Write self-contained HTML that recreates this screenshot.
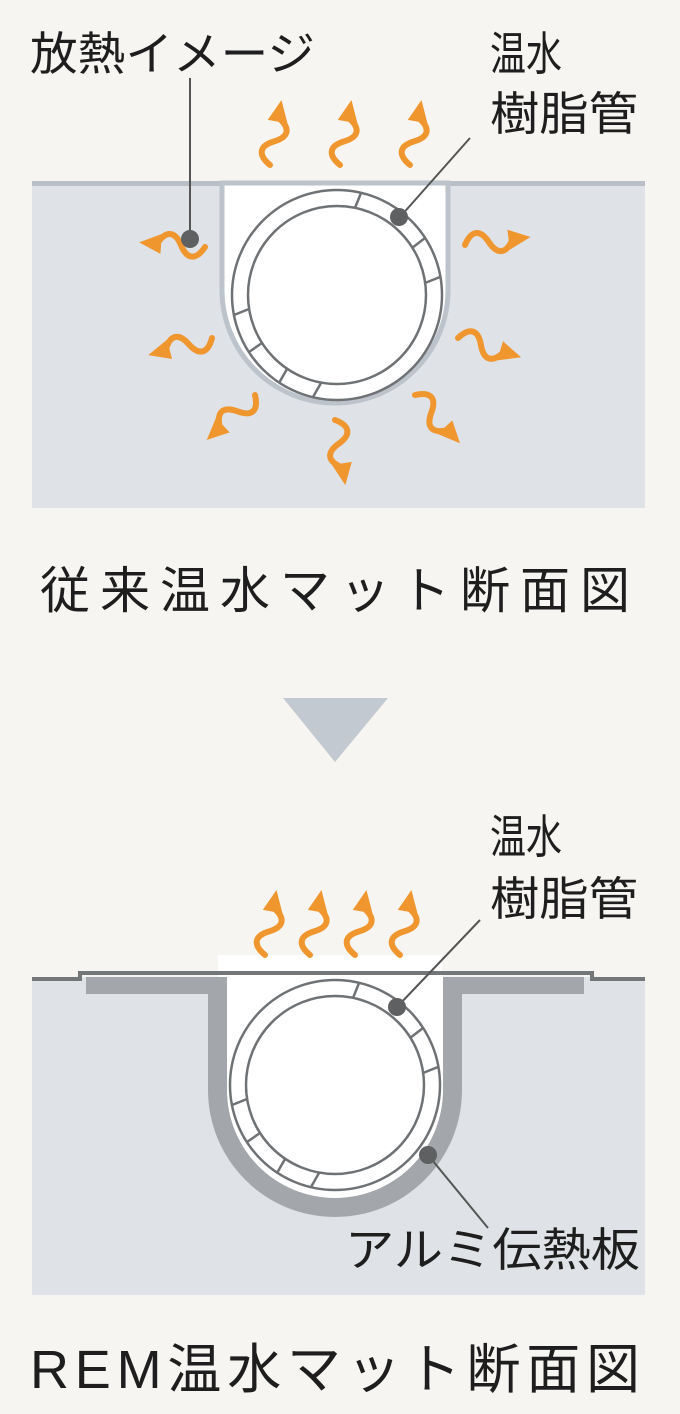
<!DOCTYPE html>
<html><head><meta charset="utf-8"><style>
html,body{margin:0;padding:0;background:#f6f5f1}
svg{display:block}
text{font-family:"Liberation Sans","Noto Sans CJK JP",sans-serif;fill:#1e1e1e}
</style></head><body>
<svg width="680" height="1414" viewBox="0 0 680 1414" xmlns="http://www.w3.org/2000/svg">
<defs>
<g id="arr">
<path d="M0,0 c8,-14 17,-14 24,0 s16,14 24,0" fill="none" stroke="#f0962e" stroke-width="6" stroke-linecap="round"/>
<polygon points="44,-10 66,0 44,10" fill="#f0962e"/>
</g>
<g id="pipe">
<circle cx="0" cy="0" r="105" fill="#fff" stroke="#6f7275" stroke-width="2.5"/>
<circle cx="0" cy="0" r="89" fill="#fff" stroke="#6f7275" stroke-width="2.5"/>
<g stroke="#6f7275" stroke-width="2.5">
<line x1="18" y1="-87" x2="24" y2="-102"/>
<line x1="75" y1="-47" x2="88" y2="-57"/>
<line x1="88" y1="-12" x2="103" y2="-18"/>
<line x1="-88" y1="14" x2="-103" y2="20"/>
<line x1="-75" y1="48" x2="-88" y2="57"/>
<line x1="-50" y1="74" x2="-58" y2="88"/>
<line x1="-16" y1="88" x2="-24" y2="102"/>
</g>
</g>
</defs>

<!-- TOP DIAGRAM -->
<rect x="32" y="183" width="613" height="325" fill="#dfe2e6"/>
<rect x="32" y="181" width="613" height="5" fill="#b8bfc6"/>
<path d="M222,183 V290 A113,113 0 0 0 448,290 V183 Z" fill="#fff" stroke="#bcc3ca" stroke-width="5"/>
<rect x="225" y="186" width="220" height="10" fill="#fff"/>
<use href="#pipe" transform="translate(337,295)"/>

<text x="30" y="70" font-size="46" textLength="285" lengthAdjust="spacingAndGlyphs">放熱イメージ</text>
<text x="490" y="70" font-size="46" textLength="72" lengthAdjust="spacingAndGlyphs">温水</text>
<text x="490" y="130" font-size="46" textLength="148" lengthAdjust="spacingAndGlyphs">樹脂管</text>
<line x1="190" y1="78" x2="190" y2="240" stroke="#555" stroke-width="2"/>
<line x1="470" y1="138" x2="400" y2="217" stroke="#555" stroke-width="2"/>

<use href="#arr" transform="translate(205,247) rotate(184)"/>
<circle cx="190" cy="239" r="9" fill="#5e6062"/>
<circle cx="399" cy="217" r="9" fill="#5e6062"/>
<use href="#arr" transform="translate(212,338) rotate(165)"/>
<use href="#arr" transform="translate(255,395) rotate(137)"/>
<use href="#arr" transform="translate(335,420) rotate(81)"/>
<use href="#arr" transform="translate(415,395) rotate(47)"/>
<use href="#arr" transform="translate(458,338) rotate(17)"/>
<use href="#arr" transform="translate(465,245) rotate(-7)"/>
<use href="#arr" transform="translate(270,165) rotate(-80)"/>
<use href="#arr" transform="translate(340,165) rotate(-80)"/>
<use href="#arr" transform="translate(410,165) rotate(-80)"/>

<text x="40" y="608" font-size="50" textLength="590" lengthAdjust="spacing">従来温水マット断面図</text>

<polygon points="283,698 388,698 335,762" fill="#c3c9d0"/>

<!-- BOTTOM DIAGRAM -->
<rect x="32" y="977" width="613" height="318" fill="#dfe2e6"/>
<rect x="218" y="955" width="224" height="22" fill="#fff"/>
<path d="M86,977 H584 V994 H462 V1090 A127,127 0 0 1 208,1090 V994 H86 Z" fill="#a3a7ab"/>
<path d="M227,977 V1090 A108,108 0 0 0 443,1090 V977 Z" fill="#fff"/>
<path d="M32,979 H80 V973 H592 V979 H645" fill="none" stroke="#74777a" stroke-width="4"/>
<use href="#pipe" transform="translate(335,1085)"/>

<text x="490" y="853" font-size="46" textLength="72" lengthAdjust="spacingAndGlyphs">温水</text>
<text x="490" y="915" font-size="46" textLength="148" lengthAdjust="spacingAndGlyphs">樹脂管</text>
<text x="345" y="1266" font-size="46" textLength="295" lengthAdjust="spacingAndGlyphs">アルミ伝熱板</text>
<line x1="480" y1="920" x2="397" y2="1007" stroke="#555" stroke-width="2"/>
<line x1="428" y1="1155" x2="488" y2="1228" stroke="#555" stroke-width="2"/>
<circle cx="397" cy="1007" r="9" fill="#5e6062"/>
<circle cx="428" cy="1155" r="9" fill="#5e6062"/>

<use href="#arr" transform="translate(265,955) rotate(-80)"/>
<use href="#arr" transform="translate(310,955) rotate(-80)"/>
<use href="#arr" transform="translate(355,955) rotate(-80)"/>
<use href="#arr" transform="translate(400,955) rotate(-80)"/>

<text x="30" y="1388" font-size="54" textLength="610" lengthAdjust="spacing">REM温水マット断面図</text>
</svg>
</body></html>
